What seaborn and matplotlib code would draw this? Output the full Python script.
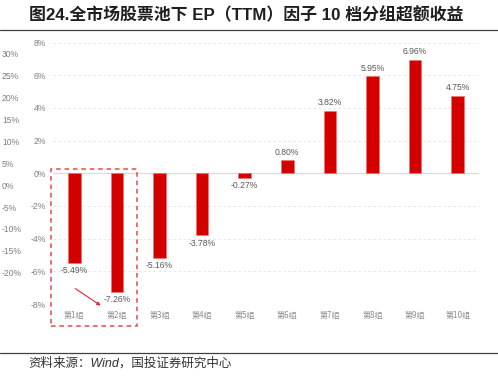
import pandas as pd
import matplotlib
matplotlib.use("Agg")
import matplotlib.pyplot as plt
import seaborn as sns
from matplotlib.patches import Rectangle
from matplotlib.lines import Line2D

# Data
groups = ["第1组", "第2组", "第3组", "第4组", "第5组", "第6组", "第7组", "第8组", "第9组", "第10组"]
excess = [-5.49, -7.26, -5.16, -3.78, -0.27, 0.80, 3.82, 5.95, 6.96, 4.75]
left_ticks = [30, 25, 20, 15, 10, 5, 0, -5, -10, -15, -20]
right_ticks = [8, 6, 4, 2, 0, -2, -4, -6, -8]

title = "图24.全市场股票池下 EP（TTM）因子 10 档分组超额收益"
source = "资料来源：Wind，国投证券研究中心"

df = pd.DataFrame({"group": groups, "excess": excess})

sns.set_style("white")
plt.rcParams["font.family"] = ["Liberation Sans", "Noto Sans CJK SC", "DejaVu Sans"]

W, H = 498, 381
fig = plt.figure(figsize=(W / 100, H / 100), dpi=100)
ax = fig.add_axes([53 / W, 1 - 304 / H, 426 / W, (304 - 42.6) / H])

sns.barplot(data=df, x="group", y="excess", color="#d40000", width=0.3,
            saturation=1, edgecolor="#f07070", linewidth=0.4, ax=ax)
ax.set_ylim(-8, 8)
ax.set_xlim(-0.5, 9.5)
ax.set_xlabel("")
ax.set_ylabel("")
for s in ax.spines.values():
    s.set_visible(False)

# gridlines
for t in right_ticks:
    if t == 0:
        ax.axhline(0, color="#d9d9d9", lw=0.8, zorder=0)
    else:
        ax.axhline(t, color="#e3e3e3", lw=0.6, ls=(0, (3, 3)), zorder=0)

ax.set_yticks(right_ticks)
ax.set_yticklabels([f"{t}%" for t in right_ticks])
ax.tick_params(axis="y", length=0, pad=5, labelsize=6.2, labelcolor="#7f7f7f")
ax.tick_params(axis="x", length=0, pad=5, labelsize=5.8, labelcolor="#8c8c8c")
for lab in ax.get_xticklabels():
    lab.set_family(["Noto Sans CJK SC", "DejaVu Sans"])

ax.bar_label(ax.containers[0], labels=[f"{v:.2f}%" for v in excess],
             padding=2.5, fontsize=6.2, color="#595959")

# stray outer axis on the far left
ax2 = ax.twinx()
ax2.set_ylim(-27.16, 32.6)
ax2.yaxis.set_ticks_position("left")
ax2.set_yticks(left_ticks)
ax2.set_yticklabels([f"{t}%" for t in left_ticks])
ax2.tick_params(axis="y", length=0, pad=36.7, labelsize=6.2, labelcolor="#7f7f7f")
for lab in ax2.get_yticklabels():
    lab.set_horizontalalignment("left")
for s in ax2.spines.values():
    s.set_visible(False)

# dashed highlight box and arrow
box = Rectangle((-0.554, -9.33), 2.019, 9.61, fill=False, ec="#e8474c",
                lw=1.1, ls=(0, (3, 2.5)), clip_on=False, zorder=5)
ax.add_patch(box)
ax.annotate("", xy=(0.674, -8.19), xytext=(-0.03, -6.96),
            arrowprops=dict(arrowstyle="-|>", color="#e0282e", lw=0.8,
                            mutation_scale=5), annotation_clip=False)

# title, rules, source
fig.text(246 / W, 1 - 15.5 / H, title, ha="center", va="center", fontsize=12.2,
         fontweight="bold", color="#1f1f1f", family=["Liberation Sans", "Noto Sans CJK SC"])
fig.add_artist(Line2D([0, 1], [1 - 29.5 / H, 1 - 29.5 / H], color="#404040", lw=0.9))
fig.add_artist(Line2D([0, 1], [1 - 352.7 / H, 1 - 352.7 / H], color="#404040", lw=0.9))
fig.text(28 / W, 1 - 363 / H, source, ha="left", va="center", fontsize=9,
         style="italic", color="#333333", family=["Liberation Sans", "Noto Sans CJK SC"])

fig.savefig("out.png", dpi=100)
